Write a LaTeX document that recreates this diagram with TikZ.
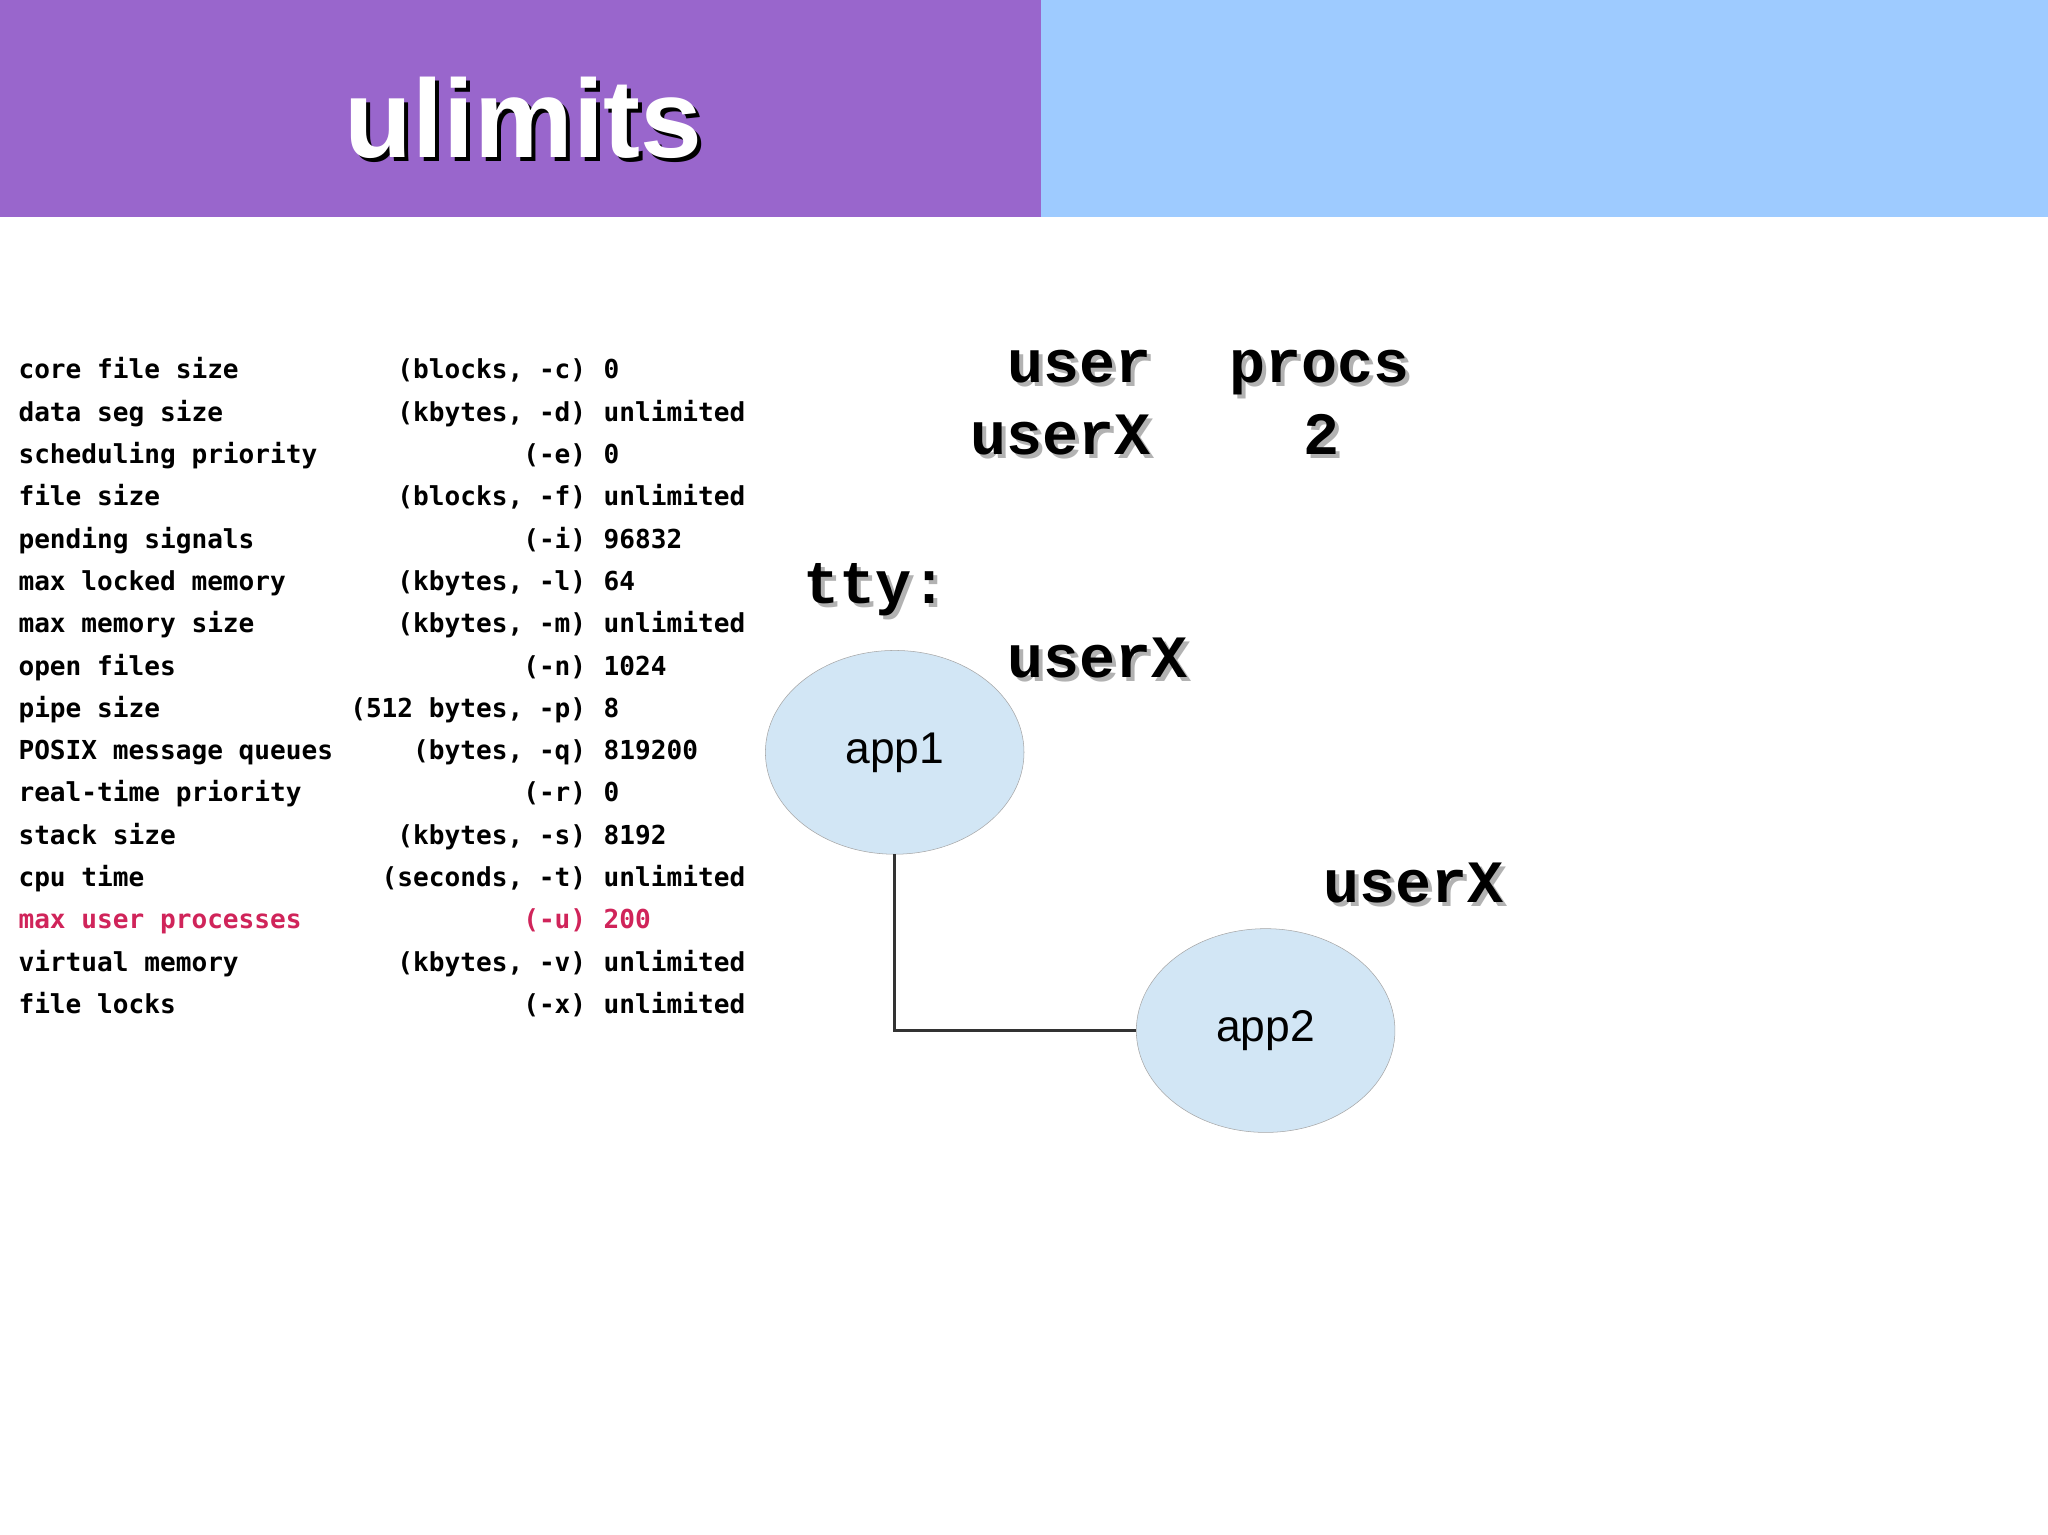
\documentclass[tikz,border=0pt]{standalone}
\usepackage{fontspec}
\usetikzlibrary{shapes.geometric}
\setmainfont{Liberation Sans}
\newfontfamily\dmono{DejaVu Sans Mono}
\newfontfamily\cmono{Liberation Mono}
\definecolor{hpurple}{HTML}{9966CC}
\definecolor{hblue}{HTML}{9ECBFF}
\definecolor{ellfill}{HTML}{D2E6F5}
\definecolor{redrow}{HTML}{D0245A}
\begin{document}
\begin{tikzpicture}[x=1pt,y=-1pt,
  lim/.style={font=\dmono\bfseries\fontsize{20}{22}\selectfont,inner sep=0pt},
  big/.style={font=\cmono\bfseries\fontsize{46}{48}\selectfont,inner sep=0pt},
  app/.style={ellipse,draw=gray!70,fill=ellfill,minimum width=198pt,minimum height=156pt,font=\fontsize{34}{36}\selectfont}]
\useasboundingbox (0,0) rectangle (1568,1175);
\fill[white] (0,0) rectangle (1568,1175);
\fill[hpurple] (0,0) rectangle (797,166);
\fill[hblue] (797,0) rectangle (1568,166);
\node[font=\bfseries\fontsize{85}{90}\selectfont,text=black] at (404,93) {ulimits};
\node[font=\bfseries\fontsize{85}{90}\selectfont,text=white] (title) at (401,90) {ulimits};
\foreach \i/\a/\b/\c in {0/core file size/{(blocks, -c)}/0,1/data seg size/{(kbytes, -d)}/unlimited,2/scheduling priority/(-e)/0,3/file size/{(blocks, -f)}/unlimited,4/pending signals/(-i)/96832,5/max locked memory/{(kbytes, -l)}/64,6/max memory size/{(kbytes, -m)}/unlimited,7/open files/(-n)/1024,8/pipe size/{(512 bytes, -p)}/8,9/POSIX message queues/{(bytes, -q)}/819200,10/real-time priority/(-r)/0,11/stack size/{(kbytes, -s)}/8192,12/cpu time/{(seconds, -t)}/unlimited,14/virtual memory/{(kbytes, -v)}/unlimited,15/file locks/(-x)/unlimited}{
  \node[lim,anchor=base west] (la\i) at (14,{290+32.4*\i}) {\a};
  \node[lim,anchor=base east] (lb\i) at (449,{290+32.4*\i}) {\b};
  \node[lim,anchor=base west] (lc\i) at (462,{290+32.4*\i}) {\c};
}
\node[lim,anchor=base west,text=redrow] (la13) at (14,{290+32.4*13}) {max user processes};
\node[lim,anchor=base east,text=redrow] (lb13) at (449,{290+32.4*13}) {(-u)};
\node[lim,anchor=base west,text=redrow] (lc13) at (462,{290+32.4*13}) {200};
\foreach \n/\t/\x/\y in {u/user/771/293,p/procs/941/293,ux/userX/743/348,tty/tty:/615/462,ua/userX/771/519,ub/userX/1013/691}{
  \node[big,anchor=base west,text=gray!60] at (\x+3,\y+3) {\t};
  \node[big,anchor=base west] (\n) at (\x,\y) {\t};
}
\node[big,anchor=base,text=gray!60] at (1015,351) {2};
\node[big,anchor=base] (two) at (1012,348) {2};
\node[app] (app1) at (685,576) {app1};
\node[app] (app2) at (969,789) {app2};
\draw[line width=2pt,black!80] (app1.south) |- (app2.west);
\end{tikzpicture}
\end{document}
